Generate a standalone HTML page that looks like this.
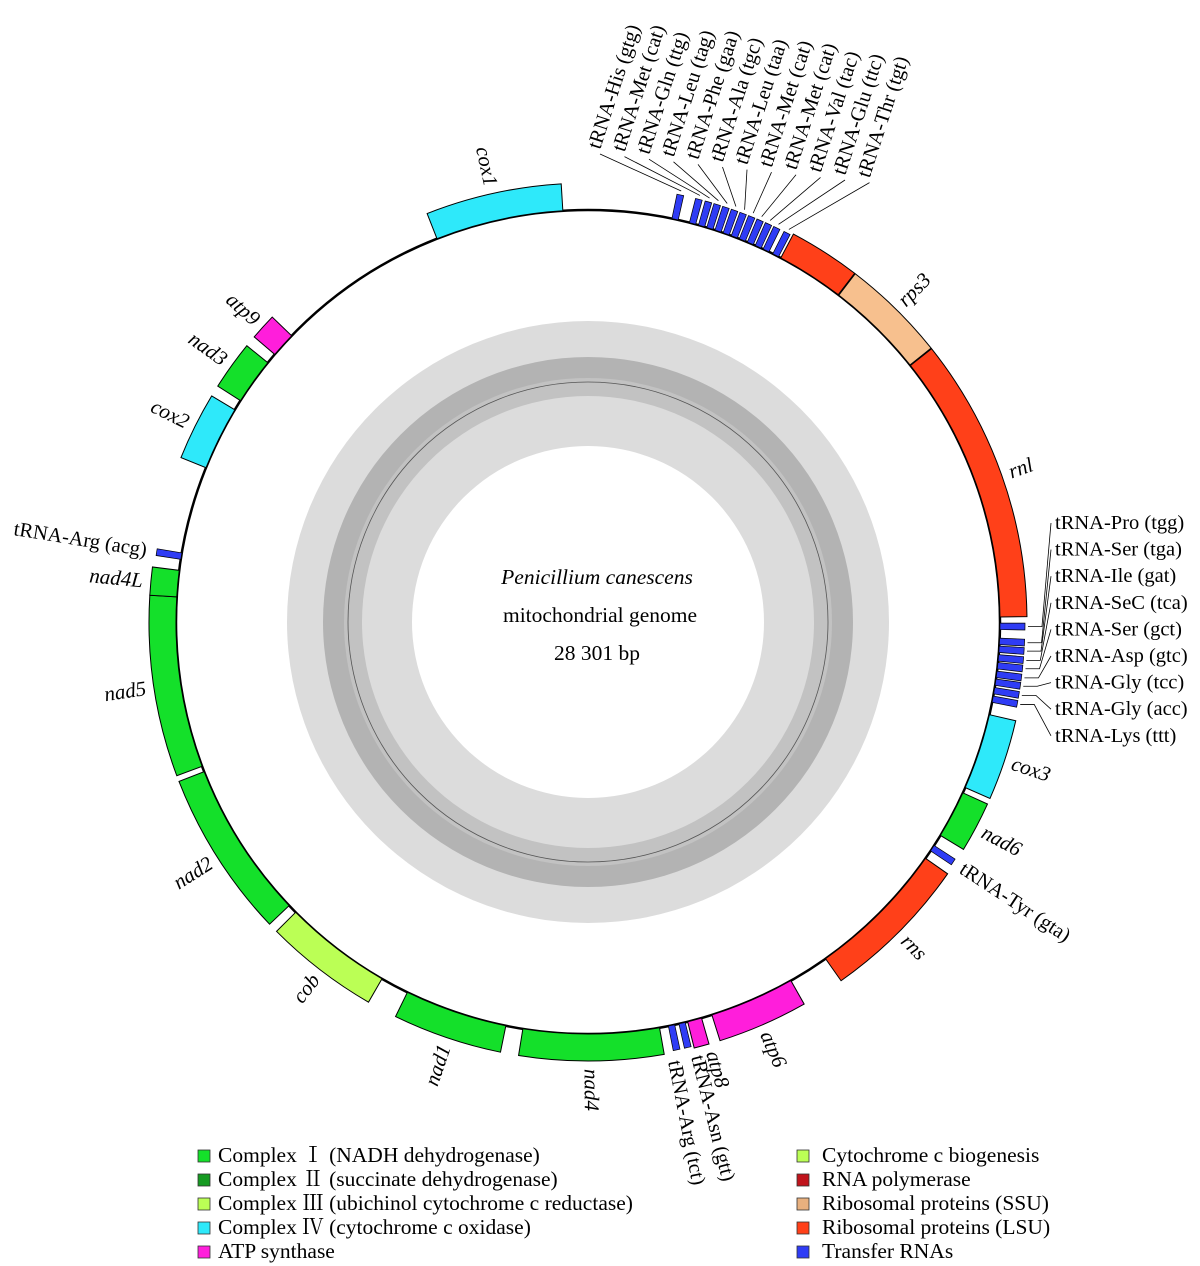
<!DOCTYPE html>
<html><head><meta charset="utf-8"><style>
html,body{margin:0;padding:0;background:#fff;}
svg{display:block;}
text{font-family:"Liberation Serif","Noto Serif CJK SC",serif;fill:#000;}
</style></head><body>
<svg id="map" width="1200" height="1266" viewBox="0 0 1200 1266" xmlns="http://www.w3.org/2000/svg">
<g id="rings"></g>
<g id="blocks"></g>
<g id="labels"></g>
<g>
<text x="597" y="584" text-anchor="middle" font-size="21.5" font-style="italic">Penicillium canescens</text>
<text x="600" y="622" text-anchor="middle" font-size="21.5">mitochondrial genome</text>
<text x="597" y="660" text-anchor="middle" font-size="21.5">28 301 bp</text>
</g>
<g id="legend"></g>
</svg>
<script>
const geneNames = ["cox1","rpsRed","rps3","rnl","cox3","nad6","rns","atp6","atp8","nad4","nad1","cob","nad2","nad5","nad4L","cox2","nad3","atp9"];
const geneStart = [-21.5,27.9,37.5,51.5,103,114.5,125,150.5,164,170,191.5,210,226.5,249.5,273.5,292,302.5,310.5];
const geneEnd   = [-3.5,37.4,51.4,89.3,113.7,121.2,144.8,162.5,166,189.1,206,225.2,248.7,273.5,277.2,301,309,314];
const geneCat   = ["IV","LSU","SSU","LSU","IV","I","LSU","ATP","ATP","I","I","III","I","I","I","IV","I","ATP"];
const geneLabel = ["cox1","","rps3","rnl","cox3","nad6","rns","atp6","atp8","nad4","nad1","cob","nad2","nad5","nad4L","cox2","nad3","atp9"];

const topTrnaNames = ["tRNA-His (gtg)","tRNA-Met (cat)","tRNA-Gln (ttg)","tRNA-Leu (tag)","tRNA-Phe (gaa)","tRNA-Ala (tgc)","tRNA-Leu (taa)","tRNA-Met (cat)","tRNA-Met (cat)","tRNA-Val (tac)","tRNA-Glu (ttc)","tRNA-Thr (tgt)"];
const topTrnaAngle = [12.2,14.7,16.0,17.2,18.4,19.6,20.8,22.0,23.2,24.4,25.6,27.1];
const rightTrnaNames = ["tRNA-Pro (tgg)","tRNA-Ser (tga)","tRNA-Ile (gat)","tRNA-SeC (tca)","tRNA-Ser (gct)","tRNA-Asp (gtc)","tRNA-Gly (tcc)","tRNA-Gly (acc)","tRNA-Lys (ttt)"];
const rightTrnaAngle = [90.6,92.7,93.8,95.0,96.1,97.3,98.4,99.6,100.8];
const otherTrnaNames = ["tRNA-Tyr (gta)","tRNA-Asn (gtt)","tRNA-Arg (tct)","tRNA-Arg (acg)"];
const otherTrnaAngle = [123.3,166.8,168.3,279.2];
const otherTrnaLabelShift = [0,-0.9,0.6,0];

const legendLeft = ["Complex Ⅰ (NADH dehydrogenase)","Complex Ⅱ (succinate dehydrogenase)","Complex Ⅲ (ubichinol cytochrome c reductase)","Complex Ⅳ (cytochrome c oxidase)","ATP synthase"];
const legendLeftColor = ["#14e02a","#169a22","#bbff55","#2ee9fa","#ff1edb"];
const legendRight = ["Cytochrome c biogenesis","RNA polymerase","Ribosomal proteins (SSU)","Ribosomal proteins (LSU)","Transfer RNAs"];
const legendRightColor = ["#bbff55","#c0141c","#e8b07e","#ff4019","#2f3cf5"];

const catColor = {I:"#14e02a",III:"#bbff55",IV:"#2ee9fa",ATP:"#ff1edb",SSU:"#f7c08e",LSU:"#ff4019",T:"#2f3cf5"};
const NS="http://www.w3.org/2000/svg";
const CX=588, CY=622, R=412, RO=439, RL=447;
function pt(r,a){const t=a*Math.PI/180;return [CX+r*Math.sin(t),CY-r*Math.cos(t)];}
function sector(r1,r2,a1,a2){
  const large=(a2-a1)>180?1:0;
  const p1=pt(r2,a1),p2=pt(r2,a2),p3=pt(r1,a2),p4=pt(r1,a1);
  return `M${p1[0]},${p1[1]} A${r2},${r2} 0 ${large} 1 ${p2[0]},${p2[1]} L${p3[0]},${p3[1]} A${r1},${r1} 0 ${large} 0 ${p4[0]},${p4[1]} Z`;
}
function mk(tag,attrs,parent){const e=document.createElementNS(NS,tag);for(const k in attrs)e.setAttribute(k,attrs[k]);parent.appendChild(e);return e;}

const rings=document.getElementById('rings');
let e;
e=mk('circle',{cx:CX,cy:CY,r:301,fill:"#dcdcdc"},rings);


e=mk('circle',{cx:CX,cy:CY,r:265,fill:"#b3b3b3"},rings);


e=mk('circle',{cx:CX,cy:CY,r:244,fill:"#c2c2c2"},rings);


e=mk('circle',{cx:CX,cy:CY,r:226,fill:"#dcdcdc"},rings);


e=mk('circle',{cx:CX,cy:CY,r:176,fill:"#fff"},rings);


e=mk('circle',{cx:CX,cy:CY,r:240,fill:"none",stroke:"#555","stroke-width":0.8},rings);


e=mk('circle',{cx:CX,cy:CY,r:R,fill:"none",stroke:"#000","stroke-width":2.5},rings);



const blocks=document.getElementById('blocks');
const labels=document.getElementById('labels');
function radialLabel(txt,a,italic,name){
  const p=pt(RL,a); let rot, anchor;
  let an=((a%360)+360)%360;
  if(an<180){rot=a-90;anchor="start";}else{rot=a+90;anchor="end";}
  const t=mk('text',{x:p[0],y:p[1],"text-anchor":anchor,"dominant-baseline":"central","font-size":italic?21:20.5,transform:`rotate(${rot} ${p[0]} ${p[1]})`},labels);
  if(italic)t.setAttribute('font-style','italic');
  t.textContent=txt;
  
  
}
geneNames.forEach((g,i)=>{
  const p=mk('path',{d:sector(R,RO,geneStart[i],geneEnd[i]),fill:catColor[geneCat[i]],stroke:"#000","stroke-width":1},blocks);
  
  
  if(geneLabel[i]){
    let a=(geneStart[i]+geneEnd[i])/2;
    if(g==="atp8") a-=1.2;
    radialLabel(geneLabel[i],a,true,'label-'+g);
  }
});
function trnaBlock(a,name){
  const p=mk('path',{d:sector(R,RO-2,a-0.45,a+0.45),fill:catColor.T,stroke:"#000","stroke-width":0.7},blocks);
  
  
}
const topLabelX0=600, topLabelDX=24.5, topLabelY0=150, topLabelDY=2.6;
topTrnaNames.forEach((n,i)=>{
  const a=topTrnaAngle[i];
  trnaBlock(a,'trna-top-'+i);
  const lx=topLabelX0+i*topLabelDX, ly=topLabelY0+i*topLabelDY;
  const q=pt(RO+2,a);
  const l=mk('line',{x1:lx,y1:ly+4,x2:q[0],y2:q[1],stroke:"#000","stroke-width":0.8},labels);
  
  
  const t=mk('text',{x:lx,y:ly,"font-size":20.5,transform:`rotate(-72 ${lx} ${ly})`},labels);
  t.textContent=n;
  
  
});
rightTrnaNames.forEach((n,i)=>{
  const a=rightTrnaAngle[i];
  trnaBlock(a,'trna-right-'+i);
  const ly=529+i*26.6;
  const q=pt(RO+1,a);
  const l=mk('polyline',{points:`${q[0]},${q[1]} ${q[0]+14},${q[1]} ${1051},${ly-6}`,fill:"none",stroke:"#000","stroke-width":0.8},labels);
  
  
  const t=mk('text',{x:1055,y:ly,"font-size":20.5},labels);
  t.textContent=n;
  
  
});
otherTrnaNames.forEach((n,i)=>{
  trnaBlock(otherTrnaAngle[i],'trna-other-'+i);
  radialLabel(n,otherTrnaAngle[i]+otherTrnaLabelShift[i],false,'trna-label');
});

const lg=document.getElementById('legend');
function legendCol(list,colors,sx,tx){
  list.forEach((n,i)=>{
    const y=1150+i*24;
    const r=mk('rect',{x:sx,y:y,width:12,height:12,fill:colors[i],stroke:"#333","stroke-width":0.8},lg);
    
    
    const t=mk('text',{x:tx,y:y+12,"font-size":21.5},lg);
    t.textContent=n;
    
    
  });
}
legendCol(legendLeft,legendLeftColor,198,218);
legendCol(legendRight,legendRightColor,797,822);
</script>
</body></html>
